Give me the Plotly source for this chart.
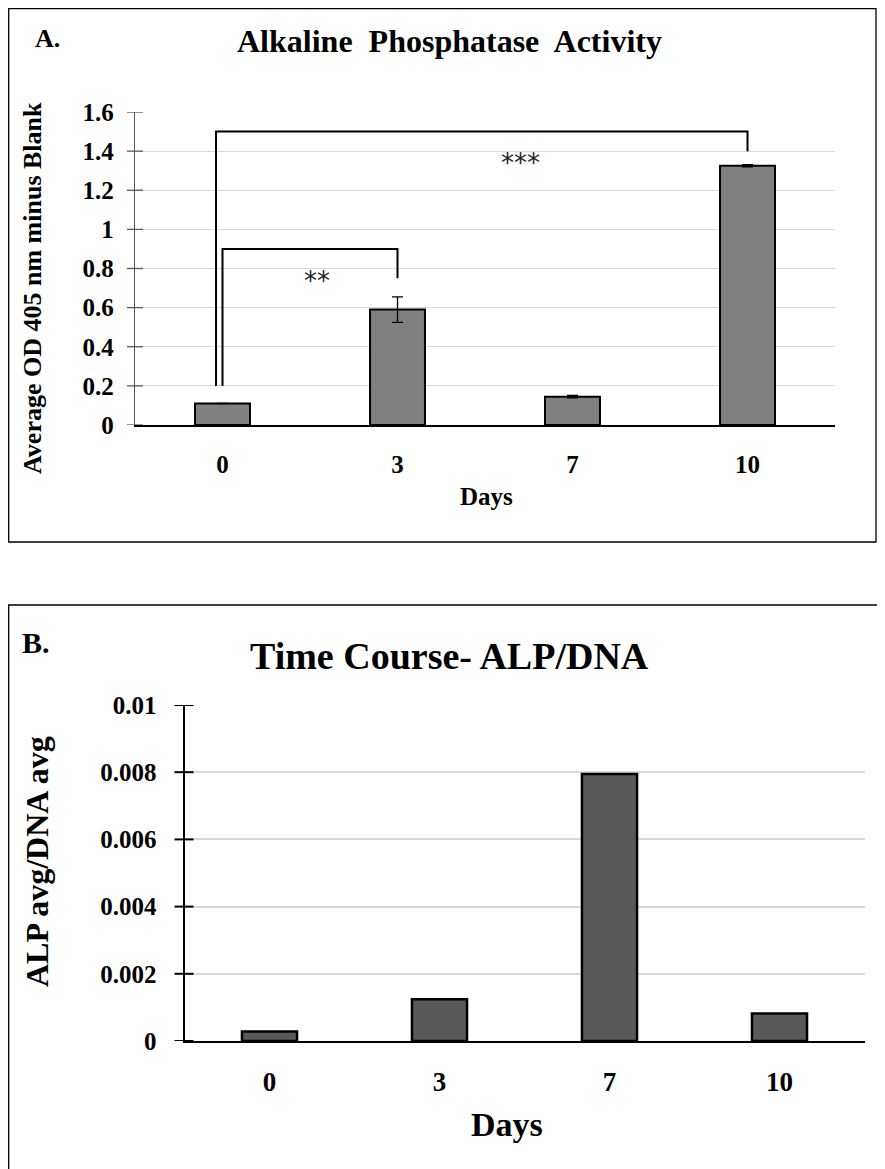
import plotly.graph_objects as go

# ---------------- data ----------------
days = ["0", "3", "7", "10"]
alp_od = [0.11, 0.59, 0.145, 1.325]
alp_err = [0.0, 0.065, 0.006, 0.006]
alp_dna = [0.00028, 0.00124, 0.00795, 0.00082]
y_ticks_a = [0, 0.2, 0.4, 0.6, 0.8, 1, 1.2, 1.4, 1.6]
y_ticks_b = [0, 0.002, 0.004, 0.006, 0.008, 0.01]
y_tick_text_b = ["0", "0.002", "0.004", "0.006", "0.008", "0.01"]
# significance brackets:
# (left idx, right idx, top, left bottom, right bottom, left offset, label, label x, label y)
brackets = [
    (0, 1, 0.9, 0.2, 0.75, 0.0, "**", 0.54, 0.735),
    (0, 3, 1.5, 0.2, 1.40, -0.037, "***", 1.70, 1.34),
]
pos = list(range(len(days)))

# page (browser) coordinates: the page body has an 8px margin
OFF = 8
W, H = 877, 1161
FONT = "Liberation Serif"


def px(x):
    return (x - OFF) / W


def py(y):
    return 1 - (y - OFF) / H


# plot-area geometry (page pixels)
A_L, A_R, A_T, A_B = 135, 835, 112, 425
B_L, B_R, B_T, B_B = 184.5, 864.5, 705, 1041

fig = go.Figure()

fig.add_trace(go.Bar(
    x=pos, y=alp_od, xaxis="x", yaxis="y", width=0.314,
    marker=dict(color="#808080", line=dict(color="#000000", width=2)),
    error_y=dict(type="data", array=alp_err, visible=True, color="#000000",
                 thickness=1.3, width=5.5),
    showlegend=False,
))

fig.add_trace(go.Bar(
    x=pos, y=alp_dna, xaxis="x2", yaxis="y2", width=0.324,
    marker=dict(color="#595959", line=dict(color="#000000", width=2.5)),
    showlegend=False,
))

# brackets
for (li, ri, top, lb, rb, off, lab, lx, ly) in brackets:
    fig.add_trace(go.Scatter(
        x=[pos[li] + off, pos[li] + off, pos[ri], pos[ri]], y=[lb, top, top, rb],
        xaxis="x", yaxis="y", mode="lines",
        line=dict(color="#000000", width=2), showlegend=False, hoverinfo="skip",
    ))

fig.update_layout(
    width=W, height=H, margin=dict(l=0, r=0, t=0, b=0, pad=0),
    paper_bgcolor="white", plot_bgcolor="white",
    xaxis=dict(
        domain=[px(A_L), px(A_R)], anchor="y", automargin=False,
        tickvals=pos, ticktext=days, range=[-0.5, 3.5],
        showline=True, linecolor="#000000", linewidth=1.5,
        ticks="", ticklen=0, showgrid=False, zeroline=False, ticklabelstandoff=16,
        tickfont=dict(family=FONT, size=25, color="#000000", weight="bold"),
    ),
    yaxis=dict(
        domain=[py(A_B), py(A_T)], anchor="x", range=[0, 1.6], automargin=False,
        tickvals=y_ticks_a, ticktext=[str(v) for v in y_ticks_a],
        showline=True, linecolor="#595959", linewidth=1.3,
        ticks="", ticklen=0, showgrid=True, gridcolor="#d9d9d9", gridwidth=1.3,
        zeroline=False, ticklabelstandoff=15,
        tickfont=dict(family=FONT, size=25, color="#000000", weight="bold"),
    ),
    xaxis2=dict(
        domain=[px(B_L), px(B_R)], anchor="y2", automargin=False,
        tickvals=pos, ticktext=days, range=[-0.5, 3.5],
        showline=True, linecolor="#000000", linewidth=2,
        ticks="", ticklen=0, showgrid=False, zeroline=False, ticklabelstandoff=16,
        tickfont=dict(family=FONT, size=27, color="#000000", weight="bold"),
    ),
    yaxis2=dict(
        domain=[py(B_B), py(B_T)], anchor="x2", range=[0, 0.01], automargin=False,
        tickvals=y_ticks_b, ticktext=y_tick_text_b,
        showline=True, linecolor="#000000", linewidth=2,
        ticks="", ticklen=0, showgrid=True, gridcolor="#d9d9d9", gridwidth=1.5,
        zeroline=False, ticklabelstandoff=21,
        tickfont=dict(family=FONT, size=25, color="#000000", weight="bold"),
    ),
)

shapes = []
# panel borders
shapes.append(dict(type="rect", xref="paper", yref="paper",
                   x0=px(8.7), x1=px(876), y0=py(542), y1=py(8.7),
                   line=dict(color="#000000", width=1.3)))
shapes.append(dict(type="rect", xref="paper", yref="paper",
                   x0=px(8.7), x1=px(884), y0=py(1190), y1=py(605),
                   line=dict(color="#000000", width=1.3)))
# crossing y ticks
for v in y_ticks_a:
    shapes.append(dict(type="line", xref="paper", yref="y",
                       x0=px(A_L - 8), x1=px(A_L + 8), y0=v, y1=v,
                       line=dict(color="#595959", width=1.3)))
for v in y_ticks_b:
    shapes.append(dict(type="line", xref="paper", yref="y2",
                       x0=px(B_L - 10), x1=px(B_L + 9), y0=v, y1=v,
                       line=dict(color="#000000", width=2)))
fig.update_layout(shapes=shapes)

ann = []


def txt(x, y, s, size, bold=True, angle=0, family=FONT, color="#000000"):
    ann.append(dict(x=px(x), y=py(y), xref="paper", yref="paper", text=s,
                    showarrow=False, xanchor="center", yanchor="middle",
                    textangle=angle,
                    font=dict(family=family, size=size, color=color,
                              weight="bold" if bold else "normal")))


txt(47, 39, "A.", 26)
txt(450, 41, "Alkaline  Phosphatase  Activity", 32)
txt(33, 288, "Average OD 405 nm minus Blank", 26, angle=-90)
txt(486, 497, "Days", 25)

txt(36, 643, "B.", 30)
txt(450, 656, "Time Course- ALP/DNA", 38)
txt(37, 862, "ALP avg/DNA avg", 32, angle=-90)
txt(507, 1124, "Days", 34)

# significance labels (data coords)
for (li, ri, top, lb, rb, off, lab, lx, ly) in brackets:
    ann.append(dict(x=lx, y=ly, xref="x", yref="y", text=lab, showarrow=False,
                    xanchor="center", yanchor="middle",
                    font=dict(family="DejaVu Sans", size=26, color="#262626")))

fig.update_layout(annotations=ann)

fig.write_html("out.html")
